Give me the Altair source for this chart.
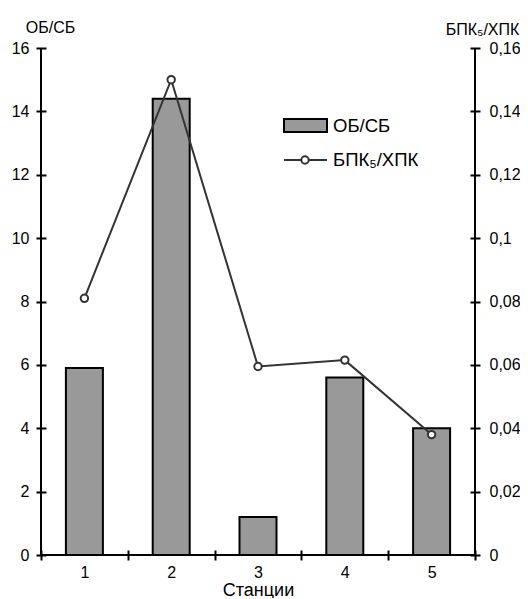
import altair as alt
import pandas as pd

stations = ["1", "2", "3", "4", "5"]
ob_sb = [5.9, 14.4, 1.2, 5.6, 4.0]
bpk_hpk = [0.081, 0.150, 0.0595, 0.0615, 0.038]
left_ticks = [0, 2, 4, 6, 8, 10, 12, 14, 16]
right_ticks = [0, 0.02, 0.04, 0.06, 0.08, 0.10, 0.12, 0.14, 0.16]
legend_labels = ["ОБ/СБ", "БПК₅/ХПК"]

W, H = 434, 507
FONT = "Liberation Sans"

df = pd.DataFrame({"station": stations, "ob": ob_sb, "bpk": bpk_hpk})
one = pd.DataFrame({"k": [0]})

xenc = alt.X(
    "station:O",
    sort=stations,
    scale=alt.Scale(paddingInner=0, paddingOuter=0),
    axis=alt.Axis(
        title="Станции", labelAngle=0, tickBand="extent", offset=-5, tickSize=10,
        domain=False, labelPadding=4, titlePadding=1, titleFontSize=18,
        titleFontWeight="normal", labelFontSize=16,
    ),
)

bars = alt.Chart(df).mark_bar(fill="#999999", stroke="black", strokeWidth=2, size=37).encode(
    x=xenc,
    y=alt.Y(
        "ob:Q",
        scale=alt.Scale(domain=[0, 16], nice=False),
        axis=alt.Axis(
            values=left_ticks, orient="left", offset=-5, tickSize=10, domain=False,
            labelPadding=7, grid=False, labelFontSize=16,
            title="ОБ/СБ", titleAngle=0, titleAlign="center", titleBaseline="middle",
            titleX=4, titleY=-21, titleFontSize=16, titleFontWeight="normal",
        ),
    ),
)

frame = alt.Chart(one).mark_rule(color="black", strokeWidth=2)
left_line = frame.encode(x=alt.value(0), y=alt.value(0), y2=alt.value(H))
right_line = frame.encode(x=alt.value(W), y=alt.value(0), y2=alt.value(H))
bottom_line = frame.encode(x=alt.value(0), x2=alt.value(W), y=alt.value(H))

yr = alt.Y(
    "bpk:Q",
    scale=alt.Scale(domain=[0, 0.16], nice=False),
    axis=alt.Axis(
        values=right_ticks, orient="right", offset=-5, tickSize=10, domain=False,
        labelPadding=9, grid=False, labelFontSize=16,
        labelExpr="replace(format(datum.value, '~g'), '.', ',')",
        title="БПК₅/ХПК", titleAngle=0, titleAlign="center", titleBaseline="middle",
        titleX=12, titleY=-19, titleFontSize=16, titleFontWeight="normal",
    ),
)

line = alt.Chart(df).mark_line(color="#333333", strokeWidth=2).encode(x=alt.X("station:O", sort=stations), y=yr)
pts = alt.Chart(df).mark_point(shape="circle", filled=True, fill="white", stroke="#333333",
                               strokeWidth=2, size=55, opacity=1).encode(
    x=alt.X("station:O", sort=stations), y=alt.Y("bpk:Q"))

# manual legend
leg_rect = alt.Chart(one).mark_rect(fill="#999999", stroke="black", strokeWidth=2).encode(
    x=alt.value(243), x2=alt.value(286), y=alt.value(71), y2=alt.value(84))
leg_line = alt.Chart(one).mark_rule(color="#333333", strokeWidth=2).encode(
    x=alt.value(243), x2=alt.value(286), y=alt.value(112))
leg_pt = alt.Chart(one).mark_point(shape="circle", filled=True, fill="white", stroke="#333333",
                                   strokeWidth=2, size=55, opacity=1).encode(
    x=alt.value(264), y=alt.value(112))
leg_t1 = alt.Chart(one).mark_text(text=legend_labels[0], align="left", baseline="middle",
                                  fontSize=18.5, font=FONT, color="black").encode(
    x=alt.value(292), y=alt.value(78))
leg_t2 = alt.Chart(one).mark_text(text=legend_labels[1], align="left", baseline="middle",
                                  fontSize=18.5, font=FONT, color="black").encode(
    x=alt.value(292), y=alt.value(112))

left_part = alt.layer(bars, left_line, right_line, bottom_line)
right_part = alt.layer(line, pts, leg_rect, leg_line, leg_pt, leg_t1, leg_t2)

chart = alt.layer(left_part, right_part).resolve_scale(y="independent").properties(
    width=W, height=H,
    autosize=alt.AutoSizeParams(type="none"),
    padding={"left": 33, "top": 40, "right": 45, "bottom": 43},
    background="white",
).configure_view(stroke=None).configure_axis(
    labelFont=FONT, titleFont=FONT, labelColor="black", titleColor="black",
    tickColor="black", tickWidth=2, domainColor="black",
)

chart.save("out.html", embed_options={"renderer": "svg", "actions": False})
